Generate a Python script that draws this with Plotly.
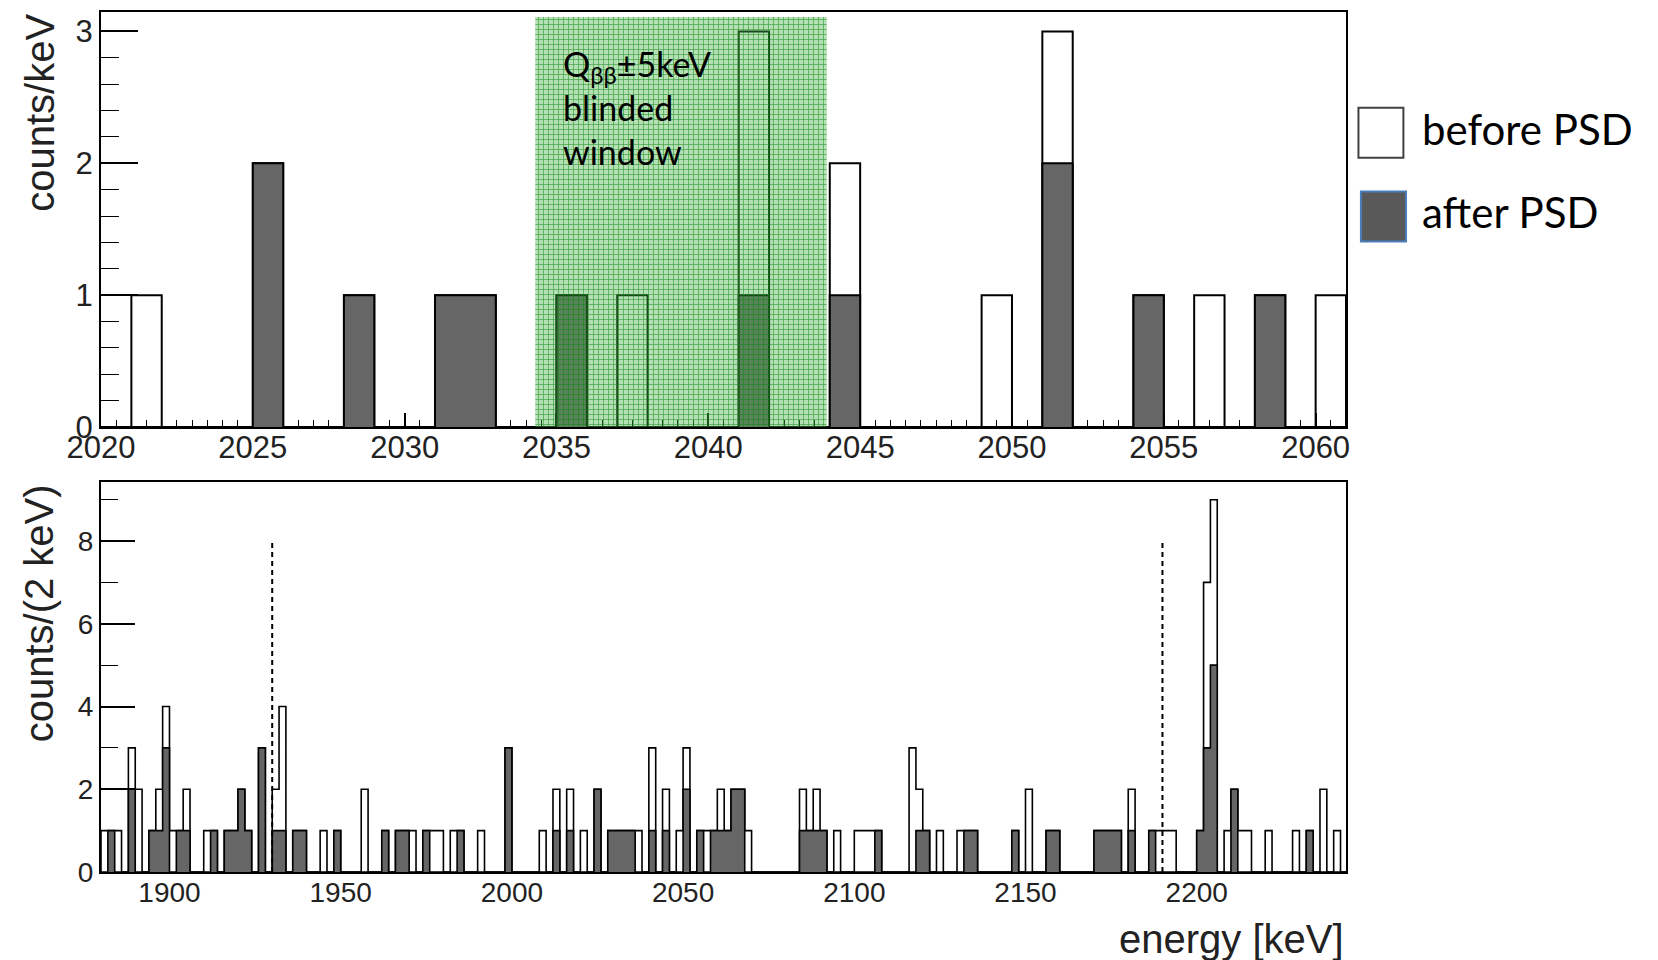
import numpy as np
import plotly.graph_objects as go

# ---------------- data ----------------
# top panel: 1 keV bins (lower bin edge), counts/keV
top_energy = [2021, 2025, 2028, 2031, 2032, 2035, 2037, 2041, 2044, 2049, 2051, 2054, 2056, 2058, 2060]
top_before = [1, 2, 1, 1, 1, 1, 1, 3, 2, 1, 3, 1, 1, 1, 1]
top_after = [0, 2, 1, 1, 1, 1, 0, 1, 1, 0, 2, 1, 0, 1, 0]
top_range = [2020, 2061]
top_bin = 1

# bottom panel: 2 keV bins (lower bin edge), counts/(2 keV), non-empty bins only
bot_energy = [1880, 1882, 1884, 1888, 1890, 1894, 1896, 1898, 1900, 1902, 1904, 1910, 1912,
              1916, 1918, 1920, 1922, 1926, 1930, 1932, 1936, 1938, 1944, 1948, 1956, 1962,
              1966, 1968, 1970, 1974, 1976, 1978, 1982, 1984, 1990, 1998, 2008, 2012, 2016,
              2020, 2024, 2028, 2030, 2032, 2034, 2036, 2040, 2044, 2048, 2050, 2054, 2056,
              2058, 2060, 2062, 2064, 2066, 2068, 2084, 2086, 2088, 2090, 2094, 2100, 2102,
              2104, 2106, 2116, 2118, 2120, 2124, 2130, 2132, 2134, 2146, 2150, 2156, 2158,
              2170, 2172, 2174, 2176, 2180, 2186, 2188, 2190, 2192, 2200, 2202, 2204, 2208,
              2210, 2212, 2214, 2220, 2228, 2232, 2236, 2240]
bot_before = [1, 1, 1, 3, 2, 1, 2, 4, 1, 1, 2, 1, 1,
              1, 1, 2, 1, 3, 2, 4, 1, 1, 1, 1, 2, 1,
              1, 1, 1, 1, 1, 1, 1, 1, 1, 3, 1, 2, 2,
              1, 2, 1, 1, 1, 1, 1, 3, 2, 1, 3, 1, 1,
              1, 2, 1, 2, 2, 1, 2, 1, 2, 1, 1, 1, 1,
              1, 1, 3, 2, 1, 1, 1, 1, 1, 1, 2, 1, 1,
              1, 1, 1, 1, 2, 1, 1, 1, 1, 1, 7, 9, 1,
              2, 1, 1, 1, 1, 1, 2, 1]
bot_after = [0, 1, 0, 2, 0, 1, 1, 3, 0, 1, 1, 0, 1,
             1, 1, 2, 1, 3, 1, 1, 1, 1, 0, 1, 0, 1,
             1, 1, 0, 1, 0, 0, 0, 1, 0, 3, 0, 1, 1,
             0, 2, 1, 1, 1, 1, 0, 1, 1, 0, 2, 1, 0,
             1, 1, 1, 2, 2, 0, 1, 1, 1, 1, 0, 0, 0,
             0, 1, 0, 1, 1, 0, 0, 1, 1, 1, 0, 1, 1,
             1, 1, 1, 1, 1, 1, 0, 0, 0, 1, 3, 5, 0,
             2, 0, 0, 0, 0, 1, 0, 0]
bot_range = [1880, 2243.6]
bot_bin = 2
bot_hist_end = 2244

# blinded window (Q_bb +- 5 keV) and analysis-window markers
blind_window = [2034.3, 2043.9]
blind_top = 3.11
marker_energy = [1930, 2190]
marker_top = 8

top_xticks = [2020, 2025, 2030, 2035, 2040, 2045, 2050, 2055, 2060]
top_yticks = [0, 1, 2, 3]
bot_xticks = [1900, 1950, 2000, 2050, 2100, 2150, 2200]
bot_yticks = [0, 2, 4, 6, 8]


# ---------------- helpers ----------------
def full_hist(lo, hi, width, energies, counts):
    edges = np.arange(lo, hi + width / 2, width)
    vals = np.zeros(len(edges) - 1)
    for e, c in zip(energies, counts):
        idx = int(round((e - lo) / width))
        vals[idx] = c
    return edges, vals


def step_xy(edges, vals):
    xs, ys = [edges[0]], [0]
    for i, v in enumerate(vals):
        xs += [edges[i], edges[i + 1]]
        ys += [v, v]
    xs.append(edges[-1])
    ys.append(0)
    return xs, ys


DARK = "#666666"
fig = go.Figure()

# ---------------- top panel ----------------
e_t, bt = full_hist(top_range[0], top_range[1], top_bin, top_energy, top_before)
_, at = full_hist(top_range[0], top_range[1], top_bin, top_energy, top_after)
x, y = step_xy(e_t, bt)
fig.add_trace(go.Scatter(x=x, y=y, mode="lines", line=dict(color="black", width=2),
                         xaxis="x", yaxis="y", hoverinfo="skip", name="before PSD"))
x, y = step_xy(e_t, at)
fig.add_trace(go.Scatter(x=x, y=y, mode="lines", line=dict(color="black", width=2),
                         fill="tozeroy", fillcolor=DARK,
                         xaxis="x", yaxis="y", hoverinfo="skip", name="after PSD"))
# green blinded window overlay
bx = [blind_window[0], blind_window[1], blind_window[1], blind_window[0], blind_window[0]]
by = [0, 0, blind_top, blind_top, 0]
fig.add_trace(go.Scatter(x=bx, y=by, mode="lines", line=dict(width=0, color="rgba(0,0,0,0)"),
                         fill="toself", fillcolor="rgba(60,170,60,0.40)",
                         fillpattern=dict(shape="+", fgcolor="rgb(10,130,10)", fgopacity=0.7,
                                          bgcolor="rgba(70,175,70,0.40)", size=5, solidity=0.25),
                         xaxis="x", yaxis="y", hoverinfo="skip"))

# ---------------- bottom panel ----------------
e_b, bb = full_hist(bot_range[0], bot_hist_end, bot_bin, bot_energy, bot_before)
_, ab = full_hist(bot_range[0], bot_hist_end, bot_bin, bot_energy, bot_after)
x, y = step_xy(e_b, bb)
fig.add_trace(go.Scatter(x=x, y=y, mode="lines", line=dict(color="black", width=1.6),
                         xaxis="x2", yaxis="y2", hoverinfo="skip"))
x, y = step_xy(e_b, ab)
fig.add_trace(go.Scatter(x=x, y=y, mode="lines", line=dict(color="black", width=1.6),
                         fill="tozeroy", fillcolor=DARK,
                         xaxis="x2", yaxis="y2", hoverinfo="skip"))
mx, my = [], []
for e in marker_energy:
    mx += [e, e, None]
    my += [0, marker_top, None]
fig.add_trace(go.Scatter(x=mx, y=my, mode="lines",
                         line=dict(color="black", width=2, dash="5px,4px"),
                         xaxis="x2", yaxis="y2", hoverinfo="skip"))

# ---------------- layout ----------------
# the page body adds an 8px offset, so the figure is 8px smaller and margins shifted
TICKFONT = "Liberation Sans, Arial, sans-serif"
axis_common = dict(showline=True, mirror=True, linecolor="black", linewidth=2,
                   showgrid=False, zeroline=False, layer="below traces",
                   tickcolor="black", tickwidth=1.5)

fig.update_layout(
    width=1650, height=952,
    margin=dict(l=93, r=312, t=2, b=88),
    paper_bgcolor="white", plot_bgcolor="white",
    showlegend=False,
    xaxis=dict(domain=[0, 1], anchor="y", range=top_range,
               tickmode="array", tickvals=top_xticks,
               ticks="inside", ticklen=14, ticklabelstandoff=-8,
               minor=dict(ticks="inside", ticklen=7, dtick=0.5, tick0=2020,
                          tickcolor="black", tickwidth=1.2),
               tickfont=dict(family=TICKFONT, size=31, color="#222"),
               **axis_common),
    yaxis=dict(domain=[0.5174, 1], anchor="x", range=[0, 3.147],
               tickmode="array", tickvals=top_yticks,
               ticks="inside", ticklen=37,
               minor=dict(ticks="inside", ticklen=18, dtick=0.2, tick0=0,
                          tickcolor="black", tickwidth=1.2),
               tickfont=dict(family=TICKFONT, size=31, color="#222"),
               **axis_common),
    xaxis2=dict(domain=[0, 1], anchor="y2", range=bot_range,
                tickmode="array", tickvals=bot_xticks, ticks="", ticklabelstandoff=-6,
                tickfont=dict(family=TICKFONT, size=28, color="#222"),
                **axis_common),
    yaxis2=dict(domain=[0, 0.4536], anchor="x2", range=[0, 9.43],
                tickmode="array", tickvals=bot_yticks,
                ticks="inside", ticklen=34,
                minor=dict(ticks="inside", ticklen=17, dtick=1, tick0=0,
                           tickcolor="black", tickwidth=1.2),
                tickfont=dict(family=TICKFONT, size=28, color="#222"),
                **axis_common),
)

TITLEFONT = dict(family=TICKFONT, size=40, color="#222")
fig.add_annotation(text="counts/keV", xref="paper", yref="paper", x=-0.049, y=0.8828,
                   textangle=-90, showarrow=False, font=TITLEFONT,
                   xanchor="center", yanchor="middle")
fig.add_annotation(text="counts/(2 keV)", xref="paper", yref="paper", x=-0.050, y=0.3005,
                   textangle=-90, showarrow=False, font=TITLEFONT,
                   xanchor="center", yanchor="middle")
fig.add_annotation(text="energy [keV]", xref="paper", yref="paper", x=1.0, y=-0.0777,
                   showarrow=False, font=TITLEFONT, xanchor="right", yanchor="middle")

# blinded window label
fig.add_annotation(text="Q<sub>ββ</sub>±5keV<br>blinded<br>window", xref="x", yref="y",
                   x=2035.15, y=2.93, xanchor="left", yanchor="top", align="left",
                   showarrow=False, font=dict(family="Lato, sans-serif", size=34, color="black"))

# legend (drawn manually, big boxes)
fig.add_shape(type="rect", xref="paper", yref="paper", x0=1.0100, x1=1.0461, y0=0.8306, y1=0.8886,
              fillcolor="white", line=dict(color="#404040", width=2))
fig.add_shape(type="rect", xref="paper", yref="paper", x0=1.0120, x1=1.0482, y0=0.7332, y1=0.7912,
              fillcolor="#595959", line=dict(color="#4a7ebb", width=2))
LEGFONT = dict(family="Lato, sans-serif", size=42, color="black")
fig.add_annotation(text="before PSD", xref="paper", yref="paper", x=1.0594, y=0.8643,
                   xanchor="left", yanchor="middle", showarrow=False, font=LEGFONT)
fig.add_annotation(text="after PSD", xref="paper", yref="paper", x=1.0594, y=0.768,
                   xanchor="left", yanchor="middle", showarrow=False, font=LEGFONT)

fig.write_html("out.html")
